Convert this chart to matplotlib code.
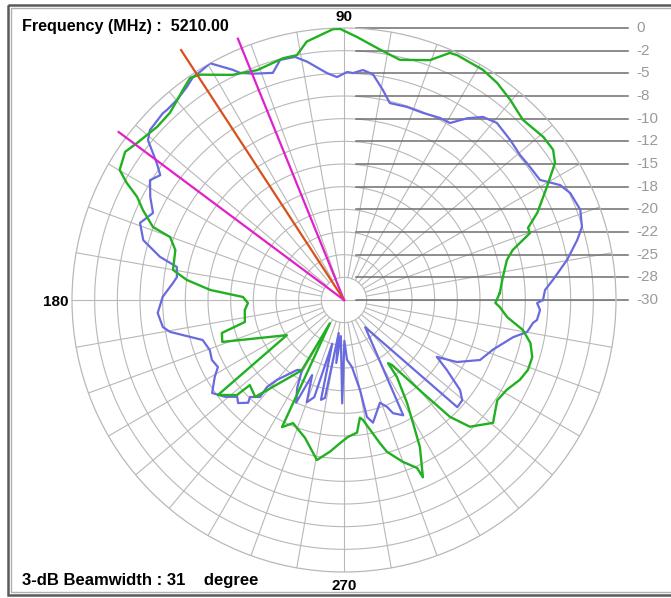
import numpy as np
import matplotlib.pyplot as plt
from matplotlib.patches import Rectangle

# measured cuts: azimuth (deg) and normalised gain (dB)
green_deg = [2.6, 8.2, 13.8, 16.5, 19.8, 21.4, 24.3, 29.1, 33.0, 35.7, 39.3, 45.2, 50.3, 54.8, 58.9,
             65.2, 66.8, 70.3, 76.9, 81.8, 87.2, 90.8, 92.3, 98.2, 100.9, 104.1, 106.7, 110.7, 114.6,
             116.3, 122.6, 124.7, 127.5, 129.9, 132.9, 137.2, 142.8, 145.9, 149.9, 151.7, 153.5, 155.9,
             159.1, 160.1, 163.5, 170.0, 172.7, 175.7, 178.3, 181.8, 185.8, 192.5, 195.1, 199.0, 211.6,
             217.0, 221.6, 222.1, 227.5, 237.2, 239.0, 238.7, 244.0, 247.5, 254.2, 260.4, 264.7, 268.4,
             271.7, 275.6, 277.7, 279.0, 284.1, 285.8, 290.0, 293.5, 294.0, 297.3, 299.3, 301.5, 304.5,
             304.9, 306.4, 310.3, 312.2, 314.8, 320.5, 326.8, 331.1, 335.6, 339.2, 343.1, 347.0, 350.5,
             354.0, 357.4, 358.9, 362.6]
green_db = [-12.8, -12.3, -11.5, -10.6, -8.2, -8.2, -6.6, -4.4, -2.25, -1.6, -1.6, -2.0, -1.3, -0.7, -0.35,
            -0.25, -0.35, -1.9, -2.8, -2.1, -0.95, -0.1, -0.1, -1.2, -2.5, -2.5, -2.7, -2.9, -2.5,
            -2.3, -0.5, -0.2, -0.8, -1.3, -1.8, -1.9, -1.35, -0.85, -1.4, -2.8, -4.5, -5.7,
            -7.45, -9.6, -10.6, -10.85, -12.5, -15.2, -18.85, -19.4, -19.0, -18.8, -16.05, -15.8, -22.6,
            -12.6, -14.2, -16.0, -15.5, -20.4, -21.0, -27.0, -14.4, -15.3, -14.2, -12.1, -13.2, -14.2,
            -14.9, -15.3, -16.9, -16.6, -13.7, -12.6, -11.0, -9.8, -8.6, -11.75, -14.45, -16.7, -19.7,
            -21.5, -21.1, -16.5, -12.6, -10.3, -8.7, -9.8, -9.5, -8.7, -8.3, -8.3, -8.9, -10.0,
            -11.9, -12.8, -13.3, -12.8]

blue_deg = [0.0, 2.85, 5.5, 10.2, 14.4, 17.05, 20.9, 25.3, 28.0, 31.5, 36.8, 39.5, 43.9, 49.2, 52.8,
            55.9, 59.1, 62.2, 67.1, 71.9, 76.9, 79.5, 82.7, 85.3, 87.7, 89.2, 91.8, 94.3, 98.8, 101.4,
            104.9, 107.4, 111.9, 114.6, 115.8, 119.5, 122.3, 124.1, 126.4, 129.9, 133.0, 134.1, 138.8,
            140.8, 143.8, 145.8, 148.3, 152.0, 155.5, 159.3, 163.4, 166.8, 168.8, 172.2, 174.3, 179.0,
            184.0, 188.5, 190.4, 195.8, 200.5, 204.4, 208.0, 210.8, 215.2, 219.2, 222.2, 224.2, 227.0,
            225.9, 229.1, 228.5, 230.0, 236.1, 239.0, 242.0, 245.0, 247.0, 250.0, 253.0, 255.0, 257.0,
            259.0, 261.0, 263.0, 265.0, 269.0, 270.5, 272.9, 276.8, 280.1, 281.1, 283.3, 289.3, 291.9,
            293.4, 297.2, 307.9, 316.6, 319.7, 322.2, 325.8, 328.5, 331.2, 336.2, 341.5, 347.6, 350.1,
            353.1, 354.1, 357.1, 359.1, 360.0]
blue_db = [-8.05, -7.8, -6.85, -5.0, -3.45, -2.55, -2.1, -2.4, -3.0, -4.65, -4.8, -4.85, -4.55, -4.2, -4.65,
           -5.8, -7.25, -7.3, -7.6, -7.6, -7.7, -6.45, -4.9, -4.55, -4.95, -4.85, -5.4, -4.9, -3.4, -2.65,
           -2.6, -3.75, -3.1, -2.45, -1.8, 0.0, -0.25, -0.3, -0.8, -1.25, -1.35, -1.3, -1.55,
           -2.1, -4.4, -5.5, -4.85, -5.8, -6.85, -5.95, -6.9, -9.15, -11.2, -11.4, -11.05, -10.0,
           -9.4, -9.8, -10.5, -13.8, -14.2, -14.0, -14.25, -13.4, -12.2, -13.1, -14.1, -13.7, -14.5,
           -15.1, -15.85, -17.2, -18.5, -20.7, -21.0, -19.0, -17.5, -21.0, -18.0, -18.8, -25.0, -18.7,
           -19.0, -26.3, -23.0, -26.0, -18.6, -25.5, -23.4, -22.55, -19.9, -16.85, -16.1, -18.0, -17.3,
           -16.4, -15.7, -26.2, -12.8, -12.9, -13.8, -16.3, -18.0, -15.8, -13.6, -12.7, -10.9, -9.5,
           -9.0, -8.6, -8.35, -8.7, -8.05]

# beam markers: the two -3 dB edges and the peak direction
beam_deg = [112.1, 123.1, 143.3]
beam_len = [1.1, 2.9, 1.0]
beam_col = ['#e020c8', '#d8501a', '#e020c8']

ring_db = [0, -2.5, -5, -7.5, -10, -12.5, -15, -17.5, -20, -22.5, -25, -27.5, -30]
ring_labels = ['0', '-2', '-5', '-8', '-10', '-12', '-15', '-18', '-20', '-22', '-25', '-28', '-30']

W, H = 671, 598
gridc = '#b8b8b8'
plt.rcParams['font.family'] = ['Liberation Sans', 'DejaVu Sans']

fig = plt.figure(figsize=(W / 100, H / 100), dpi=100)
fig.patch.set_facecolor('white')

# pixel overlay for frame, scale bars and captions
ov = fig.add_axes([0, 0, 1, 1], zorder=0)
ov.set_xlim(0, W)
ov.set_ylim(H, 0)
ov.axis('off')

cx, cy, R = 344, 300, 272
ax = fig.add_axes([(cx - R) / W, (H - cy - R) / H, 2 * R / W, 2 * R / H],
                  projection='polar', zorder=1)
ax.patch.set_alpha(0)
ax.set_ylim(-30, 0)
ax.set_xticks([])
ax.set_yticks([])
ax.grid(False)
ax.spines['polar'].set_color(gridc)
ax.spines['polar'].set_linewidth(0.9)

# rings and spokes
th = np.linspace(0, 2 * np.pi, 721)
for r in ring_db[1:-1]:
    ax.plot(th, np.full_like(th, r), color=gridc, lw=0.8, zorder=1)
for a in range(0, 360, 10):
    r0 = -30 if a % 90 == 0 else -27.5
    ax.plot([np.radians(a)] * 2, [r0, 0], color=gridc, lw=0.8, zorder=1)

# dB scale on the right, aligned with the ring tops
for r, lab in zip(ring_db, ring_labels):
    y = H - ax.transData.transform((np.pi / 2, r))[1]
    ax.plot([356, 628], [y, y], color='#6e6e6e', lw=1.1, transform=ov.transData,
            clip_on=False, zorder=2)
    ov.text(636, y, lab, color='#9a9a9a', fontsize=11, va='center', ha='left')

ax.plot(np.radians(blue_deg), blue_db, color='#6a6ae0', lw=1.6, zorder=4)
ax.plot(np.radians(green_deg), green_db, color='#20b020', lw=1.7, zorder=5)

for a, L, c in zip(beam_deg, beam_len, beam_col):
    ax.plot([np.radians(a)] * 2, [-30, L], color=c, lw=1.6, zorder=6, clip_on=False)

# captions
ov.text(22, 27, 'Frequency (MHz) :  5210.00', fontsize=11.6, fontweight='bold', va='center')
ov.text(22, 580, '3-dB Beamwidth : 31    degree', fontsize=12, fontweight='bold', va='center')
ov.text(344, 17, '90', fontsize=11, fontweight='bold', ha='center', va='center')
ov.text(68, 302, '180', fontsize=11, fontweight='bold', ha='right', va='center')
ov.text(344, 586, '270', fontsize=11, fontweight='bold', ha='center', va='center')

# window frame
ov.add_patch(Rectangle((8, 5), 680, 590, fill=False, edgecolor='#5a5a5a', lw=1.8))
ov.add_patch(Rectangle((11, 8), 680, 584, fill=False, edgecolor='#b0b0b0', lw=1.0))

fig.savefig('out.png', dpi=100)
